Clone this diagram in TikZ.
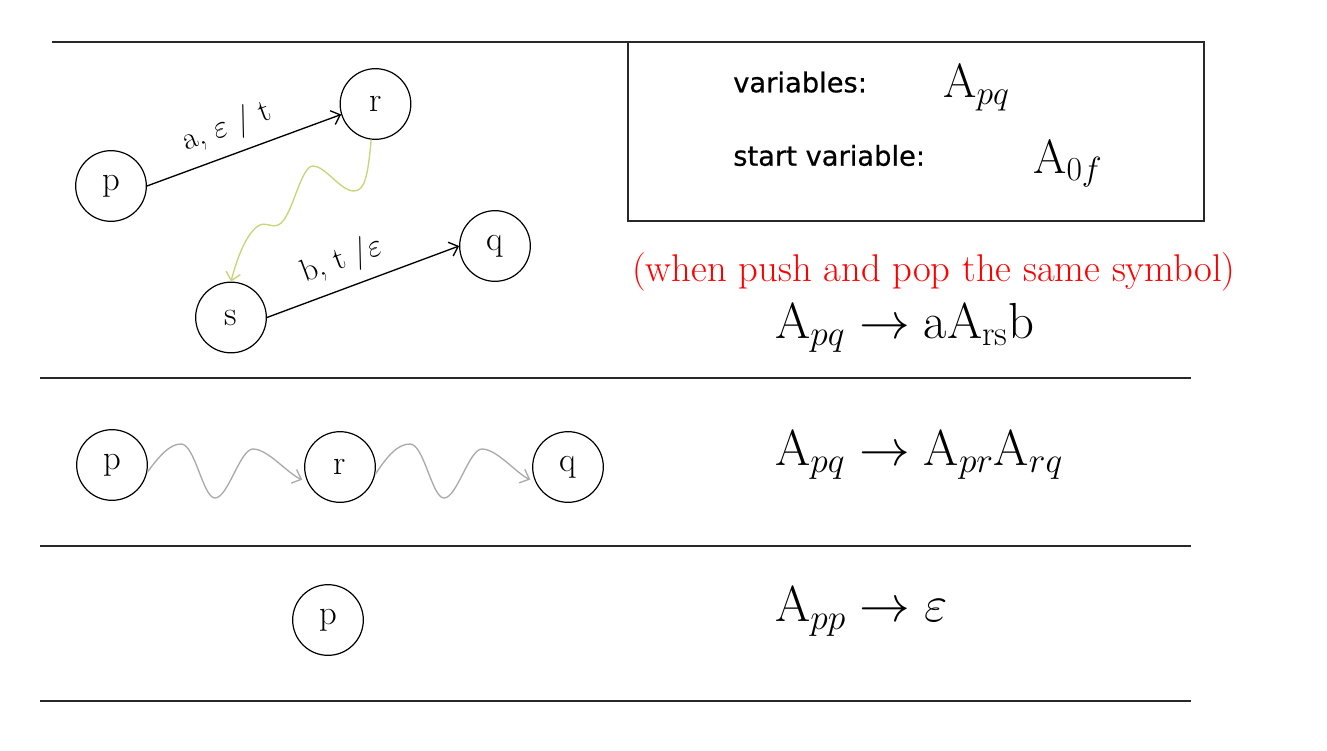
\RequirePackage{fix-cm}
\documentclass[tikz,border=0pt]{standalone}
\usepackage{fontspec}
\setsansfont[FakeBold=0.6]{DejaVu Sans}
\usetikzlibrary{arrows.meta}
\definecolor{wavegreen}{RGB}{200,212,120}
\definecolor{wavegray}{RGB}{170,170,170}
\definecolor{rulegray}{RGB}{40,40,40}
\begin{document}
\begin{tikzpicture}[x=0.75pt,y=-0.75pt,
  state/.style={circle,draw,line width=0.9pt,minimum size=53pt,inner sep=0pt,font=\fontsize{26}{30}\selectfont},
  trans/.style={line width=1pt,-{Straight Barb[length=6pt,width=11pt]}},
  elabel/.style={sloped,above,inner sep=8pt,font=\fontsize{24}{28}\selectfont},
  greenwave/.style={wavegreen,line width=1pt,-{Straight Barb[length=6pt,width=11pt]}},
  graywave/.style={wavegray,line width=1pt,-{Straight Barb[length=6pt,width=11pt]},shorten >=4pt},
  rule/.style={rulegray,line width=0.9pt},
  boxline/.style={rulegray,line width=1.1pt},
  txt/.style={anchor=base west,inner sep=0pt},
  sanslbl/.style={txt,font=\sffamily\fontsize{20.5}{24}\selectfont},
  boxvar/.style={txt,font=\fontsize{36}{40}\selectfont},
  eq/.style={txt,font=\fontsize{38}{44}\selectfont}
]
\useasboundingbox (0,0) rectangle (1327,750);

% rules and box
\draw[rule] (52,42) -- (628,42);
\draw[boxline] (628,42) rectangle (1204,221);
\draw[rule] (40,378) -- (1191,378);
\draw[rule] (40,546) -- (1191,546);
\draw[rule] (40,701) -- (1191,701);

% row 1
\node[state] (p1) at (111,186) {p};
\node[state] (r1) at (375.5,104) {r};
\node[state] (s1) at (231,317.5) {s};
\node[state] (q1) at (495,246) {q};
\draw[trans] (p1.0) -- node[elabel,pos=0.46] (l1) {a, $\varepsilon$ / t} (r1.197);
\draw[trans] (s1.0) -- node[elabel,pos=0.44] (l2) {b, t /$\varepsilon$} (q1.180);
\draw[greenwave] (r1.263) .. controls (368,175) and (365,192) .. (353,191)
  .. controls (340,190) and (325,166) .. (313,166)
  .. controls (300,166) and (292,220) .. (278,225)
  .. controls (270,228) and (266,221) .. (258,226)
  .. controls (245,235) and (236,262) .. (s1.90);

% row 2
\node[state] (p2) at (112,465) {p};
\node[state] (r2) at (340,467) {r};
\node[state] (q2) at (568,467) {q};
\draw[graywave] (p2.-12) .. controls (160,455) and (170,444) .. (181,444)
  .. controls (195,444) and (203,498) .. (215,498)
  .. controls (228,498) and (240,449) .. (253,449)
  .. controls (268,449) and (288,474) .. (r2.204);
\draw[graywave] (r2.-12) .. controls (388,455) and (398,444) .. (410,444)
  .. controls (424,444) and (432,498) .. (444,498)
  .. controls (457,498) and (469,449) .. (482,449)
  .. controls (497,449) and (517,474) .. (q2.204);

% row 3
\node[state] (p3) at (328,620) {p};

% right column
\node[sanslbl] (varlbl) at (733,92.3) {variables:};
\node[boxvar] (varA) at (943,97.7) {$\mathrm{A}_{pq}$};
\node[sanslbl] (startlbl) at (733,165.7) {start variable:};
\node[boxvar] (startA) at (1033,173) {$\mathrm{A}_{0f}$};
\node[txt,text=red,font=\fontsize{29}{33}\selectfont] (note) at (632,281.5) {(when push and pop the same symbol)};
\node[eq] (eq1) at (775,338) {$\mathrm{A}_{pq}\rightarrow\mathrm{aA}_{\mathrm{rs}}\mathrm{b}$};
\node[eq] (eq2) at (775,465) {$\mathrm{A}_{pq}\rightarrow\mathrm{A}_{pr}\mathrm{A}_{rq}$};
\node[eq] (eq3) at (775,621.7) {$\mathrm{A}_{pp}\rightarrow\varepsilon$};
\end{tikzpicture}
\end{document}
